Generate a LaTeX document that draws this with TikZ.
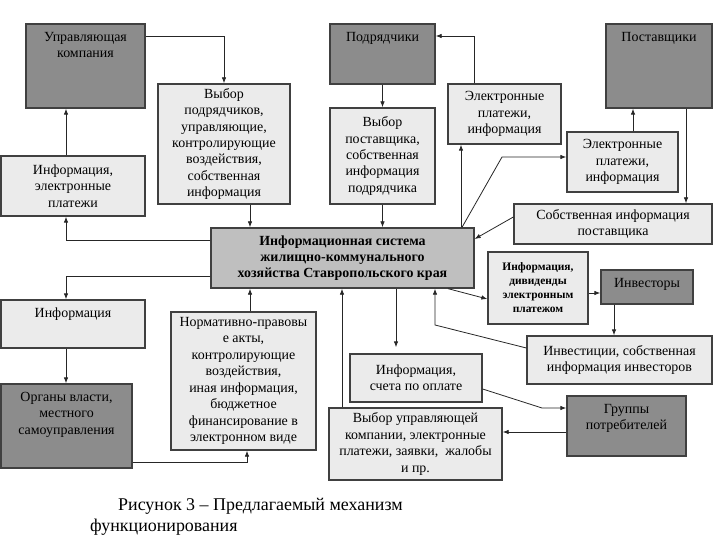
\documentclass[tikz,border=0pt]{standalone}
\usepackage{fontspec}
\setmainfont{Liberation Serif}
\usetikzlibrary{arrows.meta,calc,positioning}

\definecolor{boxdark}{HTML}{8C8C8C}
\definecolor{boxlight}{HTML}{EBEBEB}
\definecolor{boxmid}{HTML}{BFBFBF}
\definecolor{boxline}{HTML}{404040}
\definecolor{linkcol}{HTML}{262626}

% text pinned to the top of a box
\newcommand{\uptext}[3]{\parbox[c][#2][t]{#1}{\centering\vspace*{8bp}#3\par}}

\begin{document}
\begin{tikzpicture}[x=1bp,y=-1bp,
  >={Latex[length=6bp,width=4.5bp]},
  every node/.style={font=\fontsize{14}{16.5}\selectfont},
  light/.style={draw=boxline,line width=1.3bp,fill=boxlight,align=center,inner sep=0pt},
  dark/.style={light,fill=boxdark},
  sz/.style 2 args={minimum width=#1bp,minimum height=#2bp},
  conn/.style={->,line width=0.8bp,draw=linkcol}]
\useasboundingbox (0,0) rectangle (720,540);
% top row
\node[dark,sz={119}{84}] (uk) at (85.5,66) {\uptext{119bp}{84bp}{Управляющая\\компания}};
\node[light,sz={132}{120}] (vp) at (224,144) {Выбор\\подрядчиков,\\управляющие,\\контролирующие\\воздействия,\\собственная\\информация};
\node[dark,sz={105}{60}] (pd) at (382.5,54) {\uptext{105bp}{60bp}{Подрядчики}};
\node[light,sz={105}{96}] (vpost) at (382.5,156) {Выбор\\поставщика,\\собственная\\информация\\подрядчика};
\node[light,sz={113}{60}] (ep1) at (504.5,114) {Электронные\\платежи,\\информация};
\node[dark,sz={106}{84}] (ps) at (659,66) {\uptext{106bp}{84bp}{Поставщики}};
\node[light,sz={111}{60}] (ep2) at (622.5,162) {Электронные\\платежи,\\информация};
\node[light,sz={198}{40}] (si) at (613,224) {Собственная информация\\поставщика};
\node[light,sz={144}{60}] (iep) at (73,186) {Информация,\\электронные\\платежи};
% centre
\node[light,fill=boxmid,sz={263}{60},font=\bfseries\fontsize{14}{16}\selectfont] (is) at (342.5,258)
  {Информационная система\\жилищно-коммунального\\хозяйства Ставропольского края};
% lower part
\node[light,sz={144}{48}] (inf) at (73,324) {\uptext{144bp}{48bp}{Информация}};
\node[dark,sz={131}{84}] (ov) at (66.5,426) {\uptext{131bp}{84bp}{Органы власти,\\местного\\самоуправления}};
\node[light,sz={145}{138}] (npa) at (243.5,381) {Нормативно-правовы\\е акты,\\контролирующие\\воздействия,\\иная информация,\\бюджетное\\финансирование в\\электронном виде};
\node[light,sz={100}{72},font=\bfseries\fontsize{11.5}{14}\selectfont] (div) at (538,288) {Информация,\\дивиденды\\электронным\\платежом};
\node[dark,sz={92}{34}] (inv) at (647,287) {\uptext{92bp}{34bp}{Инвесторы}};
\node[light,sz={185}{48}] (ii) at (619.5,360) {Инвестиции, собственная\\информация инвесторов};
\node[light,sz={132}{48}] (is2) at (416,378) {Информация,\\счета по оплате};
\node[light,sz={173}{72}] (vuk) at (415.5,444) {Выбор управляющей\\компании, электронные\\платежи, заявки,~ жалобы\\и пр.};
\node[dark,sz={119}{60}] (gp) at (626.5,426) {\uptext{119bp}{60bp}{Группы\\потребителей}};
% caption
\node[font=\fontsize{18}{21.5}\selectfont,anchor=north west,align=left,inner sep=0pt] (cap) at (90,498)
  {\hspace*{28bp}Рисунок 3 – Предлагаемый механизм\\функционирования};
% bends
\coordinate (lx) at (66,0);
\coordinate (b1) at (502,157);
\coordinate (b2) at (435,325);
\coordinate (b3) at (542,408);
% links
\draw[conn] (uk.east |- 0,36) -| (vp.north);
\draw[conn] (iep.north -| lx) -- (uk.south -| lx);
\draw[conn] (is.west |- 0,240) -| (iep.south -| lx);
\draw[conn] (vp.south -| 250,0) -- (is.north -| 250,0);
\draw[conn] (pd.south) -- (vpost.north);
\draw[conn] (vpost.south) -- (is.north -| vpost.south);
\draw[conn] (ep1.north -| 474,0) |- (pd.east |- 0,36);
\draw[conn] (is.north -| 461,0) -- (ep1.south -| 461,0);
\draw[conn] (is.north -| 462,0) -- (b1) -- (ep2.west |- b1);
\draw[conn] (ep2.north -| 633,0) -- (ps.south -| 633,0);
\draw[conn] (ps.south -| 686,0) -- (si.north -| 686,0);
\draw[conn] (si.west |- 0,217) -- (is.east |- 0,239);
\draw[conn] (is.south -| 448,0) -- (div.west |- 0,299);
\draw[conn] (div.east |- 0,293) -- (inv.west |- 0,293);
\draw[conn] (inv.south -| 614,0) -- (ii.north -| 614,0);
\draw[conn] (ii.west |- 0,348) -- (b2) -- (is.south -| b2);
\draw[conn] (is.south -| 396,0) -- ($(is2.north -| 396,0)+(0,-6)$);
\draw[conn] (is2.east |- 0,389) -- (b3) -- (gp.west |- b3);
\draw[conn] (gp.west |- 0,432) -- (vuk.east |- 0,432);
\draw[conn] (vuk.north -| 342,0) -- (is.south -| 342,0);
\draw[conn] (npa.north -| 250,0) -- (is.south -| 250,0);
\draw[conn] (is.west |- 0,276) -| (inf.north -| lx);
\draw[conn] (inf.south -| lx) -- (ov.north -| lx);
\draw[conn] (ov.east |- 0,462) -| (npa.south -| 247,0);
\end{tikzpicture}
\end{document}
